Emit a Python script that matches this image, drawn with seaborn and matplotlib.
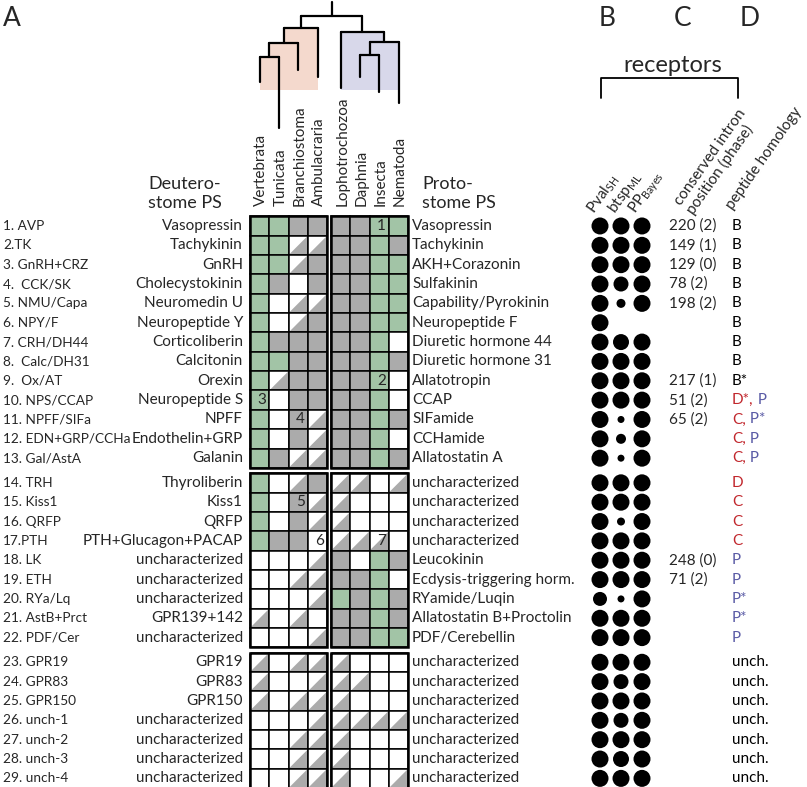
import numpy as np
import pandas as pd
import matplotlib.pyplot as plt
from matplotlib.patches import Rectangle, Polygon
import seaborn as sns

# ---- data ----
left_labels = ["1. AVP", "2.TK", "3. GnRH+CRZ", "4.  CCK/SK", "5. NMU/Capa", "6. NPY/F",
               "7. CRH/DH44", "8.  Calc/DH31", "9.  Ox/AT", "10. NPS/CCAP", "11. NPFF/SIFa",
               "12. EDN+GRP/CCHa", "13. Gal/AstA", "14. TRH", "15. Kiss1", "16. QRFP", "17.PTH",
               "18. LK", "19. ETH", "20. RYa/Lq", "21. AstB+Prct", "22. PDF/Cer", "23. GPR19",
               "24. GPR83", "25. GPR150", "26. unch-1", "27. unch-2", "28. unch-3", "29. unch-4"]
deut_names = ["Vasopressin", "Tachykinin", "GnRH", "Cholecystokinin", "Neuromedin U",
              "Neuropeptide Y", "Corticoliberin", "Calcitonin", "Orexin", "Neuropeptide S",
              "NPFF", "Endothelin+GRP", "Galanin", "Thyroliberin", "Kiss1", "QRFP",
              "PTH+Glucagon+PACAP", "uncharacterized", "uncharacterized", "uncharacterized",
              "GPR139+142", "uncharacterized", "GPR19", "GPR83", "GPR150", "uncharacterized",
              "uncharacterized", "uncharacterized", "uncharacterized"]
proto_names = ["Vasopressin", "Tachykinin", "AKH+Corazonin", "Sulfakinin", "Capability/Pyrokinin",
               "Neuropeptide F", "Diuretic hormone 44", "Diuretic hormone 31", "Allatotropin",
               "CCAP", "SIFamide", "CCHamide", "Allatostatin A", "uncharacterized",
               "uncharacterized", "uncharacterized", "uncharacterized", "Leucokinin",
               "Ecdysis-triggering horm.", "RYamide/Luqin", "Allatostatin B+Proctolin",
               "PDF/Cerebellin", "uncharacterized", "uncharacterized", "uncharacterized",
               "uncharacterized", "uncharacterized", "uncharacterized", "uncharacterized"]
row_group = [0] * 13 + [1] * 9 + [2] * 7

deut_taxa = ["Vertebrata", "Tunicata", "Branchiostoma", "Ambulacraria"]
proto_taxa = ["Lophotrochozoa", "Daphnia", "Insecta", "Nematoda"]

# g = green, x = grey, w = white, h = half grey (diagonal)
deut_cells = ["ggxx", "gghh", "gghx", "gxwx", "gwhh", "gwhx", "gxxx", "ggxx", "ghxx", "gwxx",
              "gwxh", "gwxh", "gxhh", "gwhx", "gwxh", "gwxh", "gxxw", "wwwh", "wwhh", "wwwh",
              "hwhw", "wwwh", "hwhh", "hwwh", "hwhh", "wwwh", "wwhh", "wwhh", "wwhh"]
proto_cells = ["xxgg", "xxgx", "xxgg", "xxgg", "xxgg", "xxgg", "xxgw", "xxgx", "xxgw", "xxgw",
               "xxgx", "xxgw", "xxgx", "hhwh", "hwww", "hwww", "hhhw", "xwgx", "xxgw", "gxgx",
               "xxgx", "xxgg", "hwww", "hhww", "hwww", "hhhh", "hwww", "hwww", "hwwh"]
cell_notes = [(0, 6, "1"), (8, 6, "2"), (9, 0, "3"), (10, 2, "4"), (14, 2, "5"),
              (16, 3, "6"), (16, 6, "7")]

# dot diameters (px); NaN = no dot
pval_sh = [17, 17, 17, 17, 17, 17, 17, 17, 17, 17, 17, 17, 17, 17, 17, 17, 17, 17, 17, 14,
           17, 17, 17, 17, 17, 17, 17, 17, 17]
btsp_ml = [17, 17, 17, 15, 9, np.nan, 16, 17, 17, 17, 7, 10, 7, 17, 17, 8, 17, 17, 17, 7,
           17, 17, 17, 15, 17, 15, 17, 16, 17]
pp_bayes = [17, 17, 17, 17, 17, np.nan, 17, 17, 17, 17, 17, 17, 17, 17, 17, 17, 17, 17, 17, 17,
            17, 17, 17, 17, 17, 17, 17, 17, 17]

intron = ["220 (2)", "149 (1)", "129 (0)", "78 (2)", "198 (2)", "", "", "", "217 (1)", "51 (2)",
          "65 (2)", "", "", "", "", "", "", "248 (0)", "71 (2)", "", "", "", "", "", "", "", "",
          "", ""]
homology = ["B"] * 8 + ["B*", "D*, P", "C, P*", "C, P", "C, P", "D", "C", "C", "C", "P", "P",
                        "P*", "P*", "P"] + ["unch."] * 7

# dendrogram: leaf tip depth and merges (child a, child b, depth)
leaf_tip = [82, 128, 70, 77, 88, 77, 92, 103]
merges = [(0, 1, 57), (8, 2, 43), (9, 3, 28), (5, 6, 55), (11, 7, 42), (4, 12, 32), (10, 13, 16)]
root_top = 2

# ---- style ----
GREEN, GREY = "#a2c4a6", "#ababab"
RED, BLUE = "#c1272d", "#5b5ca6"
PINK, LAV = "#f4d9cd", "#d8d8ea"

sns.set_style("white")
plt.rcParams['font.family'] = ['Lato', 'DejaVu Sans']
plt.rcParams['mathtext.fontset'] = 'custom'
plt.rcParams['mathtext.rm'] = 'Lato'

fig = plt.figure(figsize=(8.07, 7.87), dpi=100)
ax = fig.add_axes([0, 0, 1, 1])
ax.set_xlim(0, 807)
ax.set_ylim(787, 0)
ax.axis('off')

X_DEUT, X_PROTO, CW = 250, 331, 19.3
Y0, PITCH, GAP = 216.3, 19.35, 5.3
FS = 11
FS_LEFT = 9.8

n = len(left_labels)
row_top = np.array([Y0 + i * PITCH + g * GAP for i, g in enumerate(row_group)])
row_mid = row_top + PITCH / 2
col_x = [X_DEUT + (j + 0.5) * CW for j in range(4)] + [X_PROTO + (j + 0.5) * CW for j in range(4)]

fill = {'g': GREEN, 'x': GREY, 'w': 'white'}
for i in range(n):
    for x0, cells in ((X_DEUT, deut_cells[i]), (X_PROTO, proto_cells[i])):
        for j, c in enumerate(cells):
            x, y = x0 + j * CW, row_top[i]
            if c == 'h':
                ax.add_patch(Rectangle((x, y), CW, PITCH, fc='white', ec='none'))
                ax.add_patch(Polygon([(x, y + PITCH), (x + CW, y), (x + CW, y + PITCH)],
                                     fc=GREY, ec='none'))
            else:
                ax.add_patch(Rectangle((x, y), CW, PITCH, fc=fill[c], ec='none'))
            ax.add_patch(Rectangle((x, y), CW, PITCH, fill=False, ec='black', lw=1.1))

for g in range(3):
    idx = [i for i in range(n) if row_group[i] == g]
    top, bot = row_top[idx[0]], row_top[idx[-1]] + PITCH
    for x0 in (X_DEUT, X_PROTO):
        ax.add_patch(Rectangle((x0, top), 4 * CW, bot - top, fill=False, ec='black', lw=1.8))

for r, c, s in cell_notes:
    ax.text(col_x[c] + 2, row_mid[r], s, ha='center', va='center', fontsize=FS)

# row labels
col = lambda s: RED if s[0] in "CD" else (BLUE if s[0] == "P" else "black")
for i in range(n):
    ax.text(3, row_mid[i], left_labels[i], ha='left', va='center', fontsize=FS_LEFT)
    ax.text(243, row_mid[i], deut_names[i], ha='right', va='center', fontsize=FS)
    ax.text(412, row_mid[i], proto_names[i], ha='left', va='center', fontsize=FS)
    if intron[i]:
        ax.text(669, row_mid[i], intron[i], ha='left', va='center', fontsize=FS)
    parts = homology[i].split(", ")
    t = ax.text(732, row_mid[i], parts[0] + ("," if len(parts) > 1 else ""),
                ha='left', va='center', fontsize=FS, color=col(parts[0]))
    if len(parts) > 1:
        ax.annotate(" " + parts[1], xy=(1, 0), xycoords=t, ha='left', va='bottom',
                    fontsize=FS, color=col(parts[1]))

# dots
DOT_X0, DOT_DX = 600, 21
dots = pd.DataFrame({
    'x': np.repeat([DOT_X0, DOT_X0 + DOT_DX, DOT_X0 + 2 * DOT_DX], n),
    'y': np.tile(row_mid, 3),
    'd': np.concatenate([pval_sh, btsp_ml, pp_bayes]),
}).dropna()
dots['area'] = (dots['d'] * 72 / 100) ** 2
amin, amax = dots['area'].min(), dots['area'].max()
sns.scatterplot(data=dots, x='x', y='y', size='area', sizes=(amin, amax), size_norm=(amin, amax),
                color='black', edgecolor='none', legend=False, ax=ax)
ax.set_xlim(0, 807)
ax.set_ylim(787, 0)

# dendrogram
node_x = list(col_x)
node_y = list(leaf_tip)
shade = []
for k, (a, b, h) in enumerate(merges):
    xa, xb = node_x[a], node_x[b]
    ax.plot([xa, xa], [node_y[a], h], color='black', lw=1.6, zorder=3)
    ax.plot([xb, xb], [node_y[b], h], color='black', lw=1.6, zorder=3)
    ax.plot([xa, xb], [h, h], color='black', lw=1.6, zorder=3)
    if k < len(merges) - 1:
        shade.append((min(xa, xb), max(xa, xb), h, PINK if max(xa, xb) < X_PROTO else LAV))
    node_x.append((xa + xb) / 2)
    node_y.append(h)
ax.plot([node_x[-1], node_x[-1]], [node_y[-1], root_top], color='black', lw=1.6, zorder=3)
for x1, x2, h, c in shade:
    ax.add_patch(Rectangle((x1, h), x2 - x1, 90 - h, fc=c, ec='none', zorder=1))

for j, name in enumerate(deut_taxa + proto_taxa):
    ax.text(col_x[j] + 1.5, 206, name, rotation=90, ha='center', va='bottom', fontsize=FS)

ax.text(148, 184, "Deutero-", ha='left', va='center', fontsize=13)
ax.text(148, 203, "stome PS", ha='left', va='center', fontsize=13)
ax.text(422, 184, "Proto-", ha='left', va='center', fontsize=13)
ax.text(422, 203, "stome PS", ha='left', va='center', fontsize=13)

# column headers
for k, lab in enumerate([r"Pval$_\mathrm{SH}$", r"btsp$_\mathrm{ML}$", r"PP$_\mathrm{Bayes}$"]):
    ax.text(DOT_X0 + k * DOT_DX - 6, 214, lab, rotation=55, rotation_mode='anchor',
            ha='left', va='baseline', fontsize=FS)
ax.text(696, 217, "conserved intron\nposition (phase)", rotation=55, rotation_mode='anchor',
        ha='left', va='bottom', fontsize=FS, linespacing=1.05)
ax.text(733, 210, "peptide homology", rotation=55, rotation_mode='anchor',
        ha='left', va='baseline', fontsize=FS)

ax.text(673, 66, "receptors", ha='center', va='center', fontsize=17)
ax.plot([601, 601, 738, 738], [98, 78, 78, 98], color='black', lw=1.3)

for lab, x in (("A", 3), ("B", 607), ("C", 683), ("D", 750)):
    ax.text(x, 18, lab, ha='left' if lab == "A" else 'center', va='center', fontsize=19)

fig.savefig("out.png", dpi=100)
